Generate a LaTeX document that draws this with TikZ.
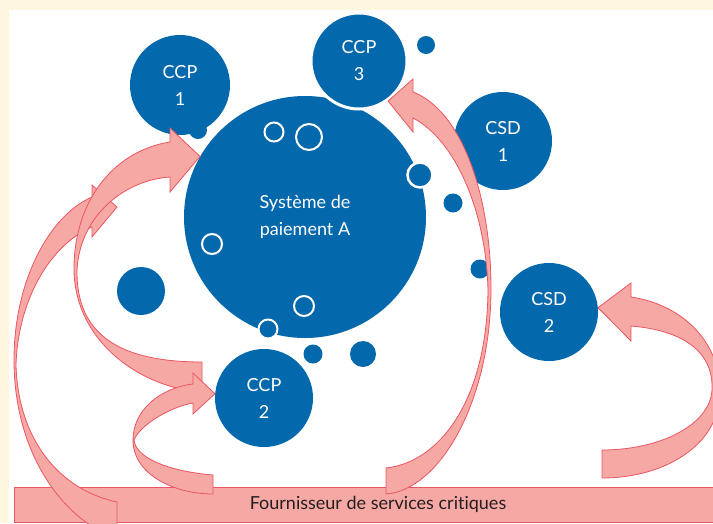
\documentclass[tikz,border=0pt]{standalone}
\usepackage{fontspec}
\setmainfont{Lato}[Ligatures=NoCommon]
\usepackage{tikz}
\definecolor{paiementblue}{RGB}{4,104,172}
\definecolor{fluxpink}{RGB}{246,168,164}
\definecolor{fluxred}{RGB}{234,86,98}
\definecolor{pagecream}{RGB}{255,246,222}
\definecolor{bartext}{RGB}{35,31,32}
\tikzstyle{acteur} = [
  circle,
  fill=paiementblue,
  inner sep=0pt,
  text=white,
  align=center,
  font=\fontsize{18}{27}\selectfont,
]
\tikzstyle{bubble} = [circle, fill=paiementblue, inner sep=0pt]
\tikzstyle{ringbubble} = [bubble, draw=white, line width=2pt]
\tikzstyle{fluxarrow} = [
  fill=fluxpink,
  draw=fluxred,
  line width=0.8pt,
  line join=miter,
]

\begin{document}
\begin{tikzpicture}[x=1pt,y=-1pt]
	\useasboundingbox (0,0) rectangle (713,523);
	\clip (0,0) rectangle (713,523);
	\fill[pagecream] (0,0) rectangle (713,523);
	\fill[white] (9,10) rectangle (713,523);

	\node[acteur,minimum size=242] (sysA) at (305,217) {Système de\\paiement A};
	\node[acteur,minimum size=100] (ccp1) at (180,85) {CCP\\1};
	\node[acteur,minimum size=96,draw=white,line width=3pt] (ccp3) at (359,61) {CCP\\3};
	\node[acteur,minimum size=98] (csd1) at (503,141) {CSD\\1};
	\node[acteur,minimum size=98] (csd2) at (549,312) {CSD\\2};
	\node[acteur,minimum size=98] (ccp2) at (264,398) {CCP\\2};

	\node[bubble,minimum size=18] (d1) at (198,130) {};
	\node[bubble,minimum size=18] (d2) at (426,45) {};
	\node[bubble,minimum size=19] (d3) at (453,203) {};
	\node[bubble,minimum size=19] (d4) at (480,269) {};
	\node[bubble,minimum size=19] (d5) at (313,354) {};
	\node[bubble,minimum size=26] (d6) at (363,354) {};
	\node[bubble,minimum size=48] (d7) at (141,291) {};

	\node[ringbubble,minimum size=19] (r1) at (274,132) {};
	\node[ringbubble,minimum size=26] (r2) at (309,137) {};
	\node[ringbubble,minimum size=20] (r3) at (212,244) {};
	\node[ringbubble,minimum size=20] (r4) at (304,306) {};
	\node[ringbubble,minimum size=19] (r5) at (268,329) {};
	\node[ringbubble,minimum size=25,line width=2.5pt] (r6) at (420,175) {};

	\node[rectangle,fill=fluxpink,draw=fluxred,line width=0.8pt,minimum width=728,minimum height=35,inner sep=0pt,text=bartext,font=\fontsize{18}{20}\selectfont] (fournisseur) at (378,504.5) {Fournisseur de services critiques};

	\draw[fluxarrow] (92,197) .. controls (50,215) and (14,280) .. (14,360)
		.. controls (14,440) and (50,500) .. (93,527) -- (117,527) -- (117,502)
		.. controls (60,490) and (18,440) .. (16,365)
		.. controls (18,300) and (50,245) .. (92,227)
		-- (92,237) -- (117,207) -- (92,185) -- cycle;
	\draw[fluxarrow] (170,142) .. controls (118,150) and (76,195) .. (74,265)
		.. controls (72,340) and (140,388) .. (202,392) -- (202,362)
		.. controls (120,362) and (76,335) .. (77,270)
		.. controls (80,215) and (125,180) .. (170,177)
		-- (170,192) -- (sysA.150) -- (170,128) -- cycle;
	\draw[fluxarrow] (193,384) .. controls (160,388) and (133,410) .. (133,440)
		.. controls (133,475) and (175,494) .. (213,494) -- (213,475)
		.. controls (175,472) and (136,460) .. (134,440)
		.. controls (140,425) and (170,407) .. (193,403)
		-- (193,414) -- (ccp2.175) -- (193,373) -- cycle;
	\draw[fluxarrow] (413,92) .. controls (460,110) and (490,190) .. (491,285)
		.. controls (492,400) and (440,490) .. (386,494) -- (386,468)
		.. controls (440,462) and (487,400) .. (488,290)
		.. controls (486,210) and (455,140) .. (413,118)
		-- (413,132) -- (ccp3.-54) -- (413,79) -- cycle;
	\draw[fluxarrow] (631,297) .. controls (685,305) and (722,345) .. (720,395)
		.. controls (718,445) and (665,478) .. (602,478) -- (602,450)
		.. controls (660,450) and (710,425) .. (712,390)
		.. controls (714,350) and (680,330) .. (631,326)
		-- (631,341) -- (csd2.5) -- (631,283) -- cycle;
\end{tikzpicture}
\end{document}
